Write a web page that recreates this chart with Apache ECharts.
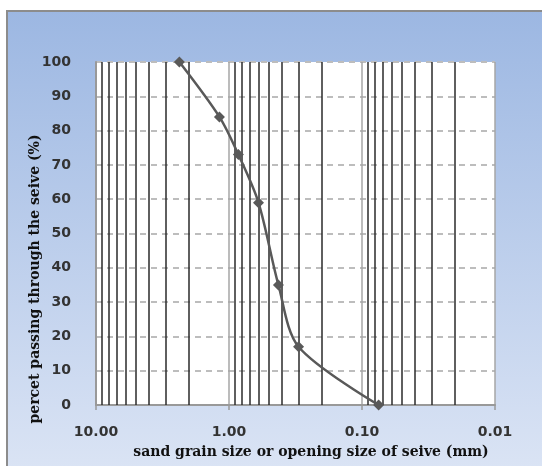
<!DOCTYPE html>
<html>
<head>
<meta charset="utf-8">
<script src="https://cdn.jsdelivr.net/npm/echarts@6/dist/echarts.min.js"></script>
<style>
html,body{margin:0;padding:0;background:#fff;}
#chart{width:542px;height:466px;}
</style>
</head>
<body>
<div id="chart"></div>
<script>
// Data
const sieveSizes = [2.36, 1.18, 0.85, 0.6, 0.425, 0.3, 0.075];
const percentPassing = [100, 84, 73, 59, 35, 17, 0];
const minorGridValues = [9, 8, 7, 6, 5, 4, 3, 2,
  0.9, 0.8, 0.7, 0.6, 0.5, 0.4, 0.3, 0.2,
  0.09, 0.08, 0.07, 0.06, 0.05, 0.04, 0.03, 0.02];
const xTickLabels = ['10.00', '1.00', '0.10', '0.01'];
const yTicks = [0, 10, 20, 30, 40, 50, 60, 70, 80, 90, 100];
const xTitle = 'sand grain size or opening size of seive (mm)';
const yTitle = 'percet passing through the seive (%)';

const chart = echarts.init(document.getElementById('chart'), null, {renderer: 'canvas'});
const labelFont = {fontFamily: 'DejaVu Sans', fontSize: 14, fontWeight: 'bold', color: '#333'};

const option = {
  animation: false,
  backgroundColor: '#fff',
  graphic: [
    {
      type: 'rect', z: -10, silent: true,
      shape: {x: 7, y: 11, width: 545, height: 470},
      style: {
        fill: {type: 'linear', x: 0, y: 0, x2: 0, y2: 1,
          colorStops: [{offset: 0, color: '#9CB7E2'}, {offset: 1, color: '#DCE5F5'}]},
        stroke: '#8C8C8C', lineWidth: 2
      }
    },
    {
      type: 'text', silent: true,
      x: 35, y: 279, rotation: Math.PI / 2,
      style: {text: yTitle, fontFamily: 'DejaVu Serif', fontWeight: 'bold', fontSize: 14,
        fill: '#111', align: 'center', verticalAlign: 'middle'}
    },
    {
      type: 'text', silent: true,
      x: 311, y: 452,
      style: {text: xTitle, fontFamily: 'DejaVu Serif', fontWeight: 'bold', fontSize: 14,
        fill: '#111', align: 'center', verticalAlign: 'middle'}
    }
  ],
  grid: {left: 96, top: 62, right: 47, bottom: 61, show: true, backgroundColor: '#fff', borderWidth: 0},
  xAxis: {
    type: 'log', logBase: 10, min: 0.01, max: 10, inverse: true,
    axisLine: {show: true, lineStyle: {color: '#999', width: 2}},
    axisTick: {show: true, length: 5, lineStyle: {color: '#999', width: 1.5}},
    axisLabel: Object.assign({margin: 20, formatter: function (v) {
      const idx = [10, 1, 0.1, 0.01].findIndex(t => Math.abs(Math.log10(t) - Math.log10(v)) < 1e-6);
      return idx >= 0 ? xTickLabels[idx] : '';
    }}, labelFont),
    splitLine: {show: true, lineStyle: {color: '#A6A6A6', width: 1.5}}
  },
  yAxis: {
    type: 'value', min: 0, max: 100, interval: 10,
    axisLine: {show: true, lineStyle: {color: '#999', width: 2}},
    axisTick: {show: false},
    axisLabel: Object.assign({margin: 25, formatter: function (v) { return yTicks.indexOf(v) >= 0 ? String(v) : ''; }}, labelFont),
    splitLine: {show: true, lineStyle: {color: '#BDBDBD', width: 2, type: [6, 5]}}
  },
  series: [
    {
      type: 'line', silent: true, data: [],
      markLine: {
        silent: true, symbol: 'none', label: {show: false},
        lineStyle: {color: '#2a2a2a', width: 1.5, type: 'solid'},
        data: minorGridValues.map(v => ({xAxis: v}))
      }
    },
    {
      type: 'line', z: 5,
      data: sieveSizes.map((s, i) => [s, percentPassing[i]]),
      smooth: 0.3,
      symbol: 'diamond', symbolSize: 11,
      lineStyle: {color: '#595959', width: 2.5},
      itemStyle: {color: '#595959'}
    }
  ]
};
chart.setOption(option);
</script>
</body>
</html>
